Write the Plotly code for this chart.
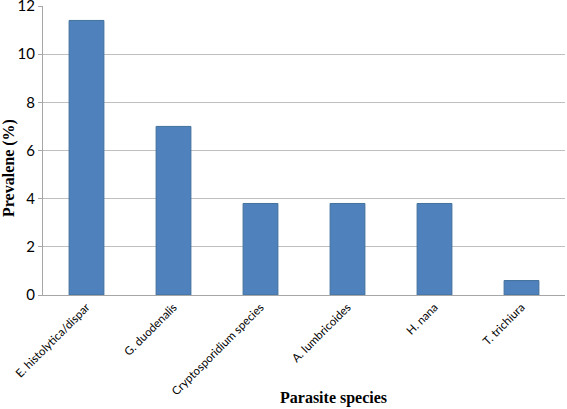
import plotly.graph_objects as go

categories = ["E. histolytica/dispar", "G. duodenalis", "Cryptosporidium species",
              "A. lumbricoides", "H. nana", "T. trichiura"]
prevalence = [11.4, 7.0, 3.8, 3.8, 3.8, 0.6]
y_ticks = [0, 2, 4, 6, 8, 10, 12]

W, H = 567, 409
L, R, T, B = 43, 2, 6, 114
plot_w, plot_h = W - L - R, H - T - B

fig = go.Figure(go.Bar(
    x=categories, y=prevalence, width=0.4,
    marker=dict(color="#4F81BD", line=dict(color="#41719C", width=1)),
))

serif = "Liberation Serif, Times New Roman, serif"
sans = "Lato, Open Sans, Liberation Sans, sans-serif"
fig.update_layout(
    width=W, height=H,
    margin=dict(l=L, r=R, t=T, b=B),
    paper_bgcolor="white", plot_bgcolor="white",
    showlegend=False,
    font=dict(family=sans, color="black"),
    annotations=[
        dict(text="<b>Parasite species</b>",
             x=(333 - L) / plot_w, xref="paper",
             y=(H - B - 398) / plot_h, yref="paper",
             xanchor="center", yanchor="middle",
             showarrow=False, font=dict(family=serif, size=16)),
        dict(text="<b>Prevalene (%)</b>",
             x=(9 - L) / plot_w, xref="paper",
             y=(H - B - 168) / plot_h, yref="paper",
             textangle=-90, xanchor="center", yanchor="middle",
             showarrow=False, font=dict(family=serif, size=16)),
    ],
)

fig.update_xaxes(
    tickangle=-45, tickfont=dict(family=sans, size=11.5), automargin=False,
    ticklabeloverflow="allow",
    showline=True, linecolor="#A6A6A6", linewidth=1,
    ticks="", showgrid=False,
)
fig.update_yaxes(
    range=[0, 12], tickvals=y_ticks, tickfont=dict(family=sans, size=15), automargin=False,
    ticklabeloverflow="allow",
    showgrid=True, gridcolor="#BFBFBF", gridwidth=1,
    showline=True, linecolor="#A6A6A6", linewidth=1,
    ticks="outside", ticklen=4, tickcolor="#A6A6A6",
    zeroline=False,
)

fig.write_html("out.html", config={"displayModeBar": False},
               post_script="document.body.style.margin='0';document.body.style.padding='0';")
